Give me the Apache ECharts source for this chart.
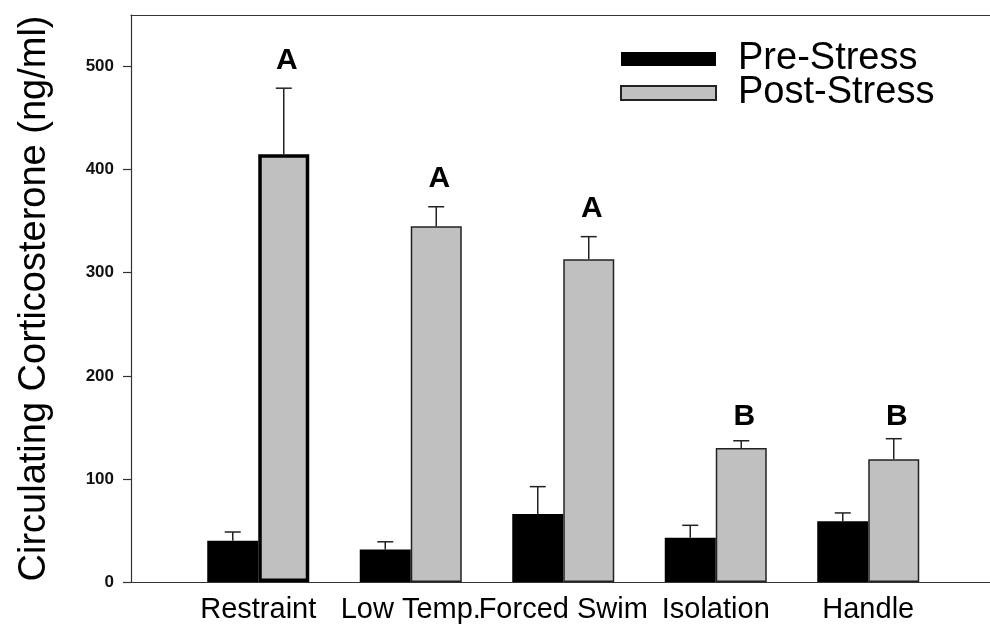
<!DOCTYPE html>
<html>
<head>
<meta charset="utf-8">
<script src="https://cdn.jsdelivr.net/npm/echarts@6/dist/echarts.min.js"></script>
<style>html,body{margin:0;padding:0;background:#fff}#c{width:990px;height:632px}</style>
</head>
<body>
<div id="c"></div>
<script>
const categories = ['Restraint', 'Low Temp.', 'Forced Swim', 'Isolation', 'Handle'];
const preMean = [40, 31.5, 66, 43, 59];
const preSem = [8.5, 7.5, 26.5, 12, 8];
const postMean = [415, 345, 313, 130, 119];
const postSem = [64, 19, 22, 7, 20];
const letters = ['A', 'A', 'A', 'B', 'B'];
const letterPos = [506, 391, 362, 160, 160];
const yTicks = [0, 100, 200, 300, 400, 500];
const yMax = 550;

const FONT = 'Liberation Sans, Arial, sans-serif';
const BAR_W = 51;
const chart = echarts.init(document.getElementById('c'), null, {renderer: 'canvas'});

function errRender(offset) {
  return function (params, api) {
    const i = api.value(0), m = api.value(1), s = api.value(2);
    const p0 = api.coord([i, m]);
    const p1 = api.coord([i, m + s]);
    const x = p0[0] + offset;
    const st = {stroke: '#222', lineWidth: 1.5};
    return {
      type: 'group',
      children: [
        {type: 'line', shape: {x1: x, y1: p0[1], x2: x, y2: p1[1]}, style: st},
        {type: 'line', shape: {x1: x - 8, y1: p1[1], x2: x + 8, y2: p1[1]}, style: st}
      ]
    };
  };
}

const option = {
  animation: false,
  backgroundColor: '#fff',
  textStyle: {fontFamily: FONT},
  grid: [
    {left: 131, right: 0, top: 15, bottom: 50},
    {left: 182, right: 45.5, top: 15, bottom: 50}
  ],
  legend: {
    orient: 'vertical', left: 615, top: 35,
    itemWidth: 95, itemHeight: 14, itemGap: -4,
    icon: 'rect',
    data: ['Pre-Stress', 'Post-Stress'],
    textStyle: {fontFamily: FONT, fontSize: 38, color: '#000', lineHeight: 34, padding: [0, 0, 0, 17]}
  },
  xAxis: [
    {type: 'value', gridIndex: 0, min: 0, max: 1, position: 'bottom',
     axisLine: {show: true, lineStyle: {color: '#333', width: 1.2}},
     axisTick: {show: false}, axisLabel: {show: false}, splitLine: {show: false}},
    {type: 'value', gridIndex: 0, min: 0, max: 1, position: 'top',
     axisLine: {show: true, onZero: false, lineStyle: {color: '#333', width: 1.2}},
     axisTick: {show: false}, axisLabel: {show: false}, splitLine: {show: false}},
    {type: 'category', gridIndex: 1, data: categories,
     axisLine: {show: false}, axisTick: {show: false}, splitLine: {show: false},
     axisLabel: {fontFamily: FONT, fontSize: 29, color: '#000', margin: 13, interval: 0}}
  ],
  yAxis: [
    {type: 'value', gridIndex: 0, min: 0, max: yMax,
     name: 'Circulating Corticosterone (ng/ml)', nameLocation: 'middle', nameGap: 77,
     nameTextStyle: {fontFamily: FONT, fontSize: 38, color: '#000'},
     axisLine: {show: true, lineStyle: {color: '#333', width: 1.2}},
     axisTick: {show: true, length: 8, inside: false, customValues: yTicks, lineStyle: {color: '#333', width: 1.2}},
     axisLabel: {customValues: yTicks, fontFamily: FONT, fontSize: 17, fontWeight: 'bold', color: '#111', margin: 17},
     splitLine: {show: false}},
    {type: 'value', gridIndex: 1, min: 0, max: yMax, show: false, splitLine: {show: false}}
  ],
  series: [
    {name: 'Pre-Stress', type: 'bar', xAxisIndex: 2, yAxisIndex: 1, barWidth: BAR_W, barGap: '0%',
     itemStyle: {color: '#000', borderColor: '#000', borderWidth: 0},
     data: preMean},
    {name: 'Post-Stress', type: 'bar', xAxisIndex: 2, yAxisIndex: 1, barWidth: BAR_W, barGap: '0%',
     itemStyle: {color: '#c0c0c0', borderColor: '#222', borderWidth: 1.5},
     data: postMean.map((v, i) => i === 0
       ? {value: v, itemStyle: {borderColor: '#000', borderWidth: 3.5}}
       : v)},
    {type: 'custom', xAxisIndex: 2, yAxisIndex: 1, renderItem: errRender(-BAR_W / 2), z: 3,
     data: preMean.map((m, i) => [i, m, preSem[i]])},
    {type: 'custom', xAxisIndex: 2, yAxisIndex: 1, renderItem: errRender(BAR_W / 2), z: 3,
     data: postMean.map((m, i) => [i, m, postSem[i]])},
    {type: 'custom', xAxisIndex: 2, yAxisIndex: 1, z: 4,
     data: letterPos.map((v, i) => [i, v]),
     renderItem: function (params, api) {
       const p = api.coord([api.value(0), api.value(1)]);
       return {type: 'text', x: p[0] + BAR_W / 2 + 3, y: p[1],
         style: {text: letters[params.dataIndex], font: 'bold 30px ' + FONT, fill: '#000',
                 align: 'center', verticalAlign: 'middle'}};
     }}
  ]
};
chart.setOption(option);
</script>
</body>
</html>
